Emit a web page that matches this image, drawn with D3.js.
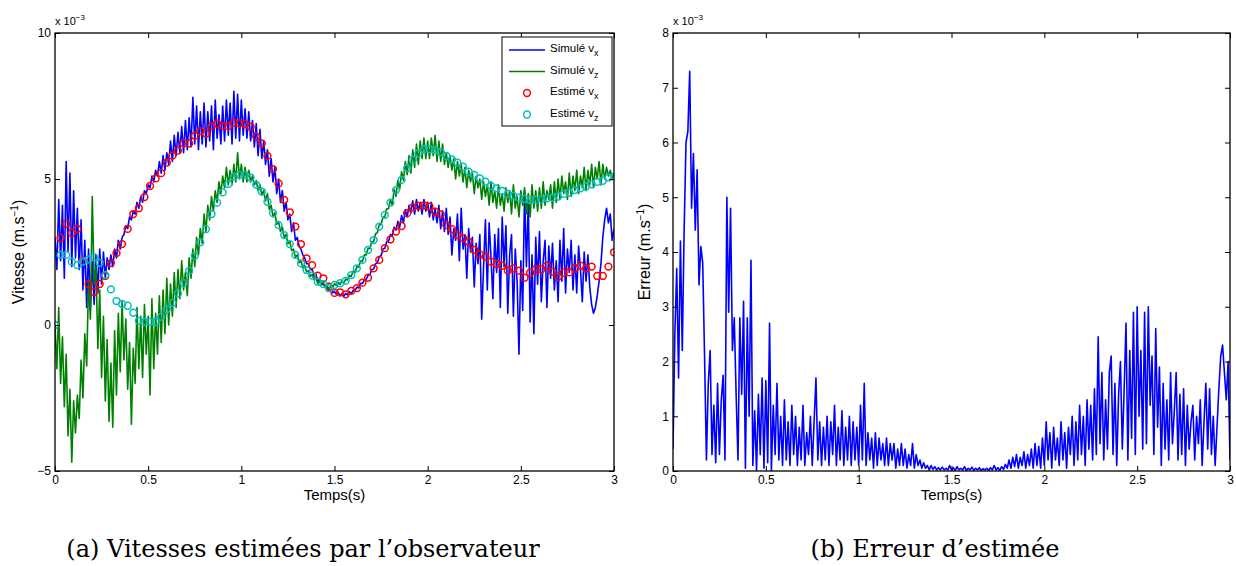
<!DOCTYPE html>
<html><head><meta charset="utf-8">
<script src="https://cdn.jsdelivr.net/npm/d3@7"></script>
<style>
body{margin:0;background:#fff}
svg{display:block}
text{font-family:"Liberation Sans",Arial,Helvetica,sans-serif;fill:#000}
</style>
</head><body>
<svg id="c" width="1236" height="566"></svg>
<script>
// ---- DATA (units of 1e-3 m/s) ----
// simulated series, sampled every 0.01 s from 0 to 3 s
const simVx = [
3.0,1.9,4.3,2.2,4.1,1.6,5.6,2.5,5.2,2.0,
4.6,2.3,4.0,1.9,3.6,1.2,2.9,0.6,2.6,0.5,
2.2,0.7,2.4,1.1,2.6,1.4,2.5,1.6,2.3,1.9,
2.4,2.0,2.6,2.3,2.9,2.6,3.0,3.1,3.4,3.3,
3.7,3.6,3.9,3.8,4.2,4.0,4.4,4.2,4.6,4.5,
4.8,4.7,5.1,4.9,5.3,5.1,5.6,5.2,5.8,5.3,
5.9,5.5,6.3,5.6,6.5,5.8,6.6,5.9,6.8,5.9,
7.0,6.0,7.1,6.1,7.8,6.2,7.5,6.0,7.3,6.2,
7.6,6.1,7.3,6.3,7.5,6.0,7.7,6.4,7.2,6.2,
7.5,6.3,7.7,6.5,7.6,6.2,8.0,6.4,7.9,6.3,
7.7,6.5,7.4,6.4,7.3,6.3,7.0,6.1,6.9,5.8,
6.7,5.7,6.3,5.5,6.0,5.1,5.7,4.9,5.4,4.5,
5.0,4.2,4.6,3.9,4.2,3.6,3.8,3.2,3.5,2.9,
3.0,2.7,2.6,2.4,2.3,2.1,2.1,1.9,1.9,1.7,
1.75,1.5,1.55,1.4,1.4,1.3,1.3,1.2,1.2,1.1,
1.15,1.05,1.12,1.0,1.08,0.98,1.08,1.03,1.14,1.08,
1.18,1.17,1.3,1.27,1.43,1.42,1.55,1.57,1.7,1.72,
1.9,1.92,2.1,2.12,2.34,2.37,2.6,2.62,2.85,2.87,
3.1,3.05,3.35,3.25,3.55,3.35,3.75,3.5,3.95,3.7,
4.1,3.85,4.25,3.8,4.3,3.9,4.2,3.8,4.3,3.9,
4.2,3.7,4.2,3.6,4.0,3.5,4.1,3.3,3.9,3.2,
4.0,3.1,3.7,2.4,3.3,2.9,3.8,2.2,4.0,2.6,
3.1,1.6,3.3,2.5,3.0,1.3,2.8,2.1,3.1,0.2,
2.0,3.6,1.2,3.5,2.3,0.9,3.1,1.8,3.3,0.6,
3.7,2.0,3.4,0.4,2.4,3.1,0.3,2.6,1.5,-1.0,
2.2,0.5,4.6,2.0,4.2,0.1,2.4,-0.3,3.0,1.4,
3.2,0.8,2.2,2.9,0.6,2.7,1.6,2.8,1.2,2.2,
0.8,2.9,1.5,3.3,1.1,2.6,1.8,2.9,1.2,2.4,
1.1,2.7,1.9,0.8,2.5,1.5,2.4,1.3,0.7,0.4,
0.6,1.0,1.5,2.1,3.0,3.6,4.0,3.5,3.8,2.9,
3.3];
const simVz = [
0.0,-1.5,0.6,-2.0,-0.4,-2.8,-1.0,-3.8,-2.2,-4.7,
-2.6,-3.7,-2.4,-3.2,-1.2,-2.5,-0.3,-1.4,1.5,0.2,
4.4,1.4,2.0,-0.8,1.2,-1.8,0.3,-2.6,-0.5,-3.3,
-1.3,-3.5,-0.2,-2.4,0.4,-1.6,0.8,-1.2,0.2,-2.2,
-0.6,-3.4,-0.8,-2.0,0.6,-1.5,0.3,-1.8,0.7,-1.0,
0.3,-2.4,0.9,-1.5,0.4,-1.0,1.0,-0.6,1.2,-0.3,
1.6,0.0,1.4,0.3,1.8,0.6,1.9,0.9,2.2,1.2,
1.8,1.0,2.3,1.6,2.6,2.0,3.0,2.4,3.3,2.8,
3.8,3.2,4.1,3.6,4.4,3.9,4.6,4.2,4.9,4.5,
5.1,4.7,5.4,4.8,5.3,4.8,5.5,4.9,5.9,5.0,
5.5,4.9,5.4,4.9,5.3,4.9,5.1,4.8,4.95,4.6,
4.8,4.45,4.6,4.25,4.5,3.95,4.1,3.7,3.85,3.45,
3.55,3.2,3.35,3.0,3.1,2.78,2.87,2.55,2.6,2.32,
2.4,2.13,2.2,1.96,2.04,1.82,1.86,1.66,1.73,1.56,
1.62,1.42,1.52,1.37,1.46,1.3,1.36,1.22,1.34,1.28,
1.42,1.35,1.46,1.39,1.52,1.44,1.57,1.54,1.70,1.66,
1.85,1.80,2.0,1.98,2.19,2.18,2.4,2.4,2.63,2.62,
2.86,2.85,3.12,3.16,3.43,3.44,3.7,3.7,3.98,3.98,
4.3,4.1,4.65,4.4,4.95,4.65,5.25,4.95,5.6,5.15,
5.8,5.2,6.0,5.4,6.2,5.5,6.3,5.7,6.4,5.7,
6.3,5.7,6.4,5.8,6.5,5.6,6.3,5.6,6.2,5.5,
5.9,5.4,5.8,5.3,5.7,5.0,5.6,5.1,5.5,4.9,
5.4,4.7,5.3,4.9,5.2,4.5,5.1,4.7,5.0,4.3,
4.9,4.4,4.8,4.1,4.9,4.2,4.6,4.0,4.8,4.1,
4.5,3.9,4.7,4.2,4.6,3.8,4.8,4.0,4.4,3.7,
4.6,4.1,4.7,3.8,4.5,3.7,4.8,4.0,4.6,3.9,
4.7,4.0,4.9,4.1,4.6,4.3,4.8,4.0,4.9,4.2,
5.0,4.3,5.1,4.5,4.9,4.3,5.2,4.4,5.1,4.6,
5.3,4.5,5.1,4.7,5.4,4.6,5.3,4.8,5.5,4.7,
5.4,5.0,5.6,4.8,5.5,5.0,5.4,5.1,5.3,5.0,
5.2];
// observer estimates, sampled every 0.03 s from 0 to 3 s
const estVx = [
0,2.98,3.46,3.15,3.29,2.2,1.4,1.13,1.4,1.68,
2.12,2.46,2.77,3.29,3.8,4.0,4.38,4.76,5.02,5.2,
5.56,5.8,5.97,6.22,6.22,6.48,6.64,6.56,6.81,6.9,
6.82,6.81,6.93,6.9,6.88,6.79,6.45,6.22,5.79,5.34,
4.85,4.28,3.86,3.37,2.77,2.28,2.05,1.69,1.6,1.31,
1.1,1.12,1.05,1.17,1.26,1.45,1.62,1.94,2.23,2.63,
2.93,3.2,3.39,3.83,4.03,4.08,4.1,4.05,3.88,3.79,
3.42,3.28,3.08,2.97,2.85,2.57,2.42,2.34,2.17,2.09,
2.03,1.86,1.94,1.86,1.62,1.79,1.91,1.91,2.03,1.83,
1.65,1.79,1.8,1.94,2.03,1.94,2.0,1.68,1.68,2.0,
2.49];
const estVz = [
0,2.4,2.4,2.17,2.05,2.17,2.25,2.32,2.13,1.71,
1.22,0.82,0.72,0.66,0.42,0.14,0.11,0.11,0.11,0.28,
0.54,0.76,1.08,1.43,1.85,2.37,2.83,3.28,3.8,4.19,
4.54,4.83,5.08,5.14,5.14,5.05,4.8,4.57,4.22,3.83,
3.42,3.08,2.77,2.4,2.11,1.88,1.69,1.48,1.4,1.26,
1.37,1.43,1.51,1.71,1.94,2.23,2.57,2.91,3.37,3.77,
4.19,4.62,4.97,5.37,5.65,5.88,6.02,6.02,6.0,5.92,
5.79,5.67,5.56,5.42,5.25,5.14,5.02,4.91,4.76,4.68,
4.59,4.49,4.42,4.36,4.32,4.28,4.28,4.3,4.34,4.36,
4.4,4.49,4.53,4.62,4.68,4.74,4.82,4.9,4.94,5.05,
5.08];
// estimation error, sampled every 0.01 s from 0 to 3 s
const errVals = [
0.4,2.5,3.7,1.7,4.2,2.2,4.4,6.0,6.2,7.3,
4.8,5.8,4.4,5.5,3.4,4.1,3.8,2.1,0.2,1.6,
2.2,0.3,1.2,0.15,1.6,0.3,1.3,1.75,0.2,5.0,
2.9,4.8,2.2,2.8,1.4,0.2,2.8,1.4,3.1,0.05,
2.8,1.0,3.85,0.1,1.1,0.0,1.4,0.3,1.7,0.05,
1.65,0.15,2.7,0.0,1.2,0.3,1.6,0.2,1.0,0.1,
1.3,0.2,0.9,0.1,1.2,0.3,1.0,0.1,0.8,0.2,
1.2,0.1,0.7,0.3,1.0,0.1,0.9,1.7,0.2,0.9,
0.1,0.8,0.2,1.0,0.1,0.9,0.3,1.2,0.1,0.8,
0.2,1.1,0.1,0.8,0.2,1.0,0.1,0.9,0.2,0.8,
0.1,1.2,0.2,1.6,0.1,0.7,0.2,0.6,0.05,0.7,
0.1,0.6,0.2,0.5,0.1,0.6,0.1,0.5,0.2,0.5,
0.05,0.4,0.1,0.5,0.1,0.4,0.05,0.3,0.1,0.5,
0.05,0.3,0.1,0.2,0.05,0.15,0.05,0.1,0.02,0.1,
0.03,0.08,0.02,0.06,0.02,0.07,0.02,0.05,0.02,0.1,
0.02,0.06,0.01,0.08,0.02,0.05,0.02,0.08,0.01,0.05,
0.02,0.07,0.01,0.05,0.02,0.06,0.01,0.04,0.02,0.05,
0.01,0.06,0.02,0.1,0.02,0.06,0.01,0.08,0.03,0.12,
0.05,0.2,0.05,0.25,0.08,0.3,0.05,0.25,0.1,0.35,
0.05,0.3,0.1,0.4,0.05,0.5,0.1,0.45,0.05,0.6,
0.1,0.9,0.2,0.7,0.05,0.8,0.2,0.6,0.1,0.9,
0.2,0.7,0.05,0.8,0.3,1.0,0.1,0.9,0.2,1.2,
0.3,1.0,0.1,1.3,0.4,1.2,0.2,1.5,0.3,2.45,
0.5,1.8,0.2,1.3,0.4,1.8,2.1,0.3,1.6,0.1,
1.4,2.0,0.4,1.5,2.7,0.2,2.2,0.6,2.9,0.3,
3.0,1.0,2.2,0.4,2.9,0.5,3.0,1.2,2.1,0.3,
2.6,0.8,1.9,0.1,1.6,0.4,1.3,0.2,1.8,0.5,
1.1,1.8,0.2,1.4,0.3,1.5,0.1,1.2,0.4,0.9,
1.2,0.2,1.0,0.5,1.3,0.1,0.9,1.6,0.4,1.5,
0.3,1.0,0.1,0.8,1.5,2.1,2.3,1.8,1.3,2.0,
0.2];
const xTicks = [0,0.5,1,1.5,2,2.5,3];
const yTicksA = [-5,0,5,10];
const yTicksB = [0,1,2,3,4,5,6,7,8];
const legendLabels = [["Simulé v","x"],["Simulé v","z"],["Estimé v","x"],["Estimé v","z"]];

// ---- DRAWING ----
const svg = d3.select("#c");
svg.append("rect").attr("width",1236).attr("height",566).attr("fill","#fff");

const toSeries = arr => arr.map((v,i)=>({t:i*3/(arr.length-1), v}));

function fmt(d){ return d<0 ? "\u2212"+Math.abs(d) : String(d); }

function makePanel(o){
  const x = d3.scaleLinear().domain([0,3]).range([o.x0,o.x1]);
  const y = d3.scaleLinear().domain(o.ydom).range([o.y1,o.y0]);
  const g = svg.append("g");
  const clipId = "clip"+o.id;
  g.append("clipPath").attr("id",clipId).append("rect")
    .attr("x",o.x0).attr("y",o.y0).attr("width",o.x1-o.x0).attr("height",o.y1-o.y0);
  const plot = g.append("g").attr("clip-path",`url(#${clipId})`);

  const ax = (axis, tr, labels) => {
    const a = g.append("g").attr("transform",tr).call(axis);
    a.select(".domain").remove();
    a.selectAll("line").attr("stroke","#000").attr("stroke-width",1);
    a.selectAll("text").attr("font-size",12).style("font-family","'Liberation Sans', Arial, sans-serif");
    if(!labels) a.selectAll("text").remove();
    return a;
  };
  ax(d3.axisBottom(x).tickValues(xTicks).tickSize(-5).tickPadding(4).tickFormat(d=>String(d)),
     `translate(0,${o.y1})`, true);
  ax(d3.axisTop(x).tickValues(xTicks).tickSize(-5), `translate(0,${o.y0})`, false);
  ax(d3.axisLeft(y).tickValues(o.yticks).tickSize(-5).tickPadding(4).tickFormat(fmt),
     `translate(${o.x0},0)`, true);
  ax(d3.axisRight(y).tickValues(o.yticks).tickSize(-5), `translate(${o.x1},0)`, false);

  g.append("rect").attr("x",o.x0).attr("y",o.y0).attr("width",o.x1-o.x0).attr("height",o.y1-o.y0)
    .attr("fill","none").attr("stroke","#000").attr("stroke-width",1.3);

  const ex = g.append("text").attr("x",o.x0).attr("y",o.y0-8).attr("font-size",11);
  ex.append("tspan").text("x 10");
  ex.append("tspan").attr("dy",-5).attr("font-size",8).text("\u22123");

  g.append("text").attr("x",(o.x0+o.x1)/2).attr("y",o.y1+29).attr("text-anchor","middle")
    .attr("font-size",15).text("Temps(s)");
  const yl = g.append("text").attr("transform",`translate(${o.ylx},${(o.y0+o.y1)/2}) rotate(-90)`)
    .attr("text-anchor","middle").attr("font-size",16);
  yl.append("tspan").text(o.ylabel+" (m.s");
  yl.append("tspan").attr("dy",-6).attr("font-size",10).text("\u22121");
  yl.append("tspan").attr("dy",6).text(")");

  svg.append("text").attr("x",o.capx).attr("y",557).attr("text-anchor","middle")
    .attr("font-size",24).style("font-family","'DejaVu Serif', serif").text(o.caption);

  return {x,y,plot};
}

// Panel (a)
const A = makePanel({id:"a",x0:55,x1:614,y0:33,y1:471,ydom:[-5,10],yticks:yTicksA,
  ylabel:"Vitesse",ylx:24,capx:303,caption:"(a) Vitesses estimées par l\u2019observateur"});
const lineA = d3.line().x(d=>A.x(d.t)).y(d=>A.y(d.v));
A.plot.append("path").datum(toSeries(simVx)).attr("d",lineA)
  .attr("fill","none").attr("stroke","#0000ff").attr("stroke-width",1.6).attr("stroke-linejoin","round");
A.plot.append("path").datum(toSeries(simVz)).attr("d",lineA)
  .attr("fill","none").attr("stroke","#008000").attr("stroke-width",1.6).attr("stroke-linejoin","round");
A.plot.append("g").selectAll("circle").data(toSeries(estVx)).join("circle")
  .attr("cx",d=>A.x(d.t)).attr("cy",d=>A.y(d.v)).attr("r",3.4)
  .attr("fill","none").attr("stroke","#ff0000").attr("stroke-width",1.5);
A.plot.append("g").selectAll("circle").data(toSeries(estVz)).join("circle")
  .attr("cx",d=>A.x(d.t)).attr("cy",d=>A.y(d.v)).attr("r",3.4)
  .attr("fill","none").attr("stroke","#00bfbf").attr("stroke-width",1.5);

// legend
const lg = svg.append("g");
lg.append("rect").attr("x",502).attr("y",37).attr("width",110).attr("height",89)
  .attr("fill","#fff").attr("stroke","#000").attr("stroke-width",1);
const lgColors = ["#0000ff","#008000","#ff0000","#00bfbf"];
legendLabels.forEach((lab,i)=>{
  const cy = 49 + i*21.5;
  if(i<2){
    lg.append("line").attr("x1",509).attr("x2",545).attr("y1",cy+1).attr("y2",cy+1)
      .attr("stroke",lgColors[i]).attr("stroke-width",1.6);
  } else {
    lg.append("circle").attr("cx",527).attr("cy",cy+1).attr("r",3.4)
      .attr("fill","none").attr("stroke",lgColors[i]).attr("stroke-width",1.5);
  }
  const t = lg.append("text").attr("x",550).attr("y",cy+3).attr("font-size",11.5);
  t.append("tspan").text(lab[0]);
  t.append("tspan").attr("dy",4).attr("font-size",9).text(lab[1]);
});

// Panel (b)
const B = makePanel({id:"b",x0:673,x1:1230,y0:33,y1:471,ydom:[0,8],yticks:yTicksB,
  ylabel:"Erreur",ylx:650,capx:935,caption:"(b) Erreur d\u2019estimée"});
const lineB = d3.line().x(d=>B.x(d.t)).y(d=>B.y(d.v));
B.plot.append("path").datum(toSeries(errVals)).attr("d",lineB)
  .attr("fill","none").attr("stroke","#0000ff").attr("stroke-width",1.6).attr("stroke-linejoin","round");
</script>
</body></html>
